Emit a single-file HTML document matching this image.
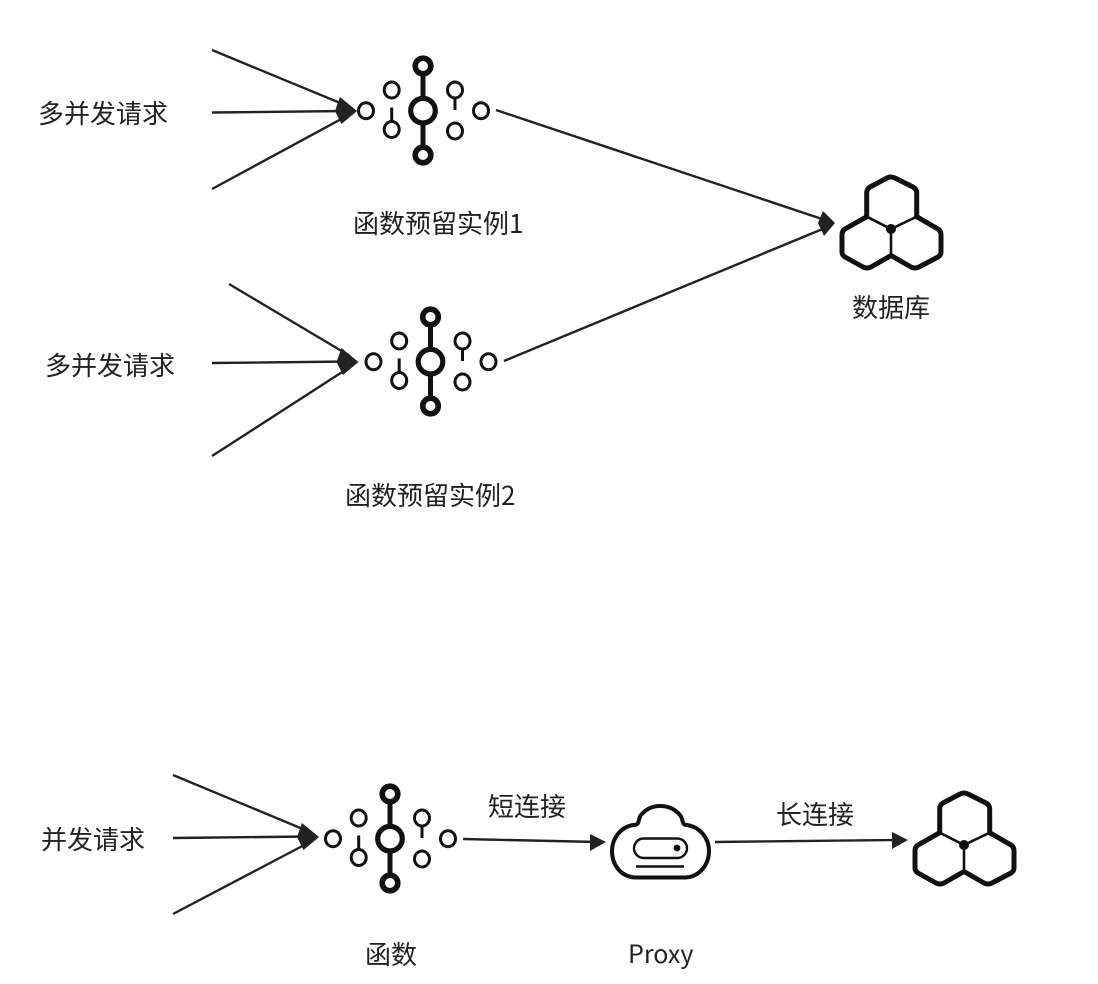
<!DOCTYPE html>
<html><head><meta charset="utf-8">
<style>
html,body{margin:0;padding:0;background:#fff;width:1098px;height:984px;overflow:hidden}
svg{display:block}
text{font-family:"Noto Sans CJK SC","Liberation Sans",sans-serif;font-size:26px;fill:#222}
</style></head>
<body>
<svg width="1098" height="984" viewBox="0 0 1098 984" xmlns="http://www.w3.org/2000/svg">
<defs>
<g id="fn" fill="none" stroke="#111">
  <path d="M423 66V155" stroke-width="5"/>
  <circle cx="423" cy="66" r="7.8" stroke-width="5.6" fill="#fff"/>
  <circle cx="423" cy="155" r="7.8" stroke-width="5.6" fill="#fff"/>
  <circle cx="423" cy="110.7" r="12.3" stroke-width="5.2" fill="#fff"/>
  <g stroke-width="3">
    <ellipse cx="366" cy="110.7" rx="7.5" ry="8"/>
    <ellipse cx="391.7" cy="90" rx="7.5" ry="8"/>
    <ellipse cx="391.7" cy="129.5" rx="7.5" ry="8"/>
    <path d="M391.7 107.5V122"/>
    <ellipse cx="455" cy="90" rx="7.5" ry="8"/>
    <path d="M455 97V110"/>
    <ellipse cx="455" cy="131" rx="7.5" ry="8"/>
    <ellipse cx="481" cy="110.7" rx="7.5" ry="8"/>
  </g>
</g>
<g id="hex" fill="none" stroke="#111" stroke-linejoin="round" stroke-linecap="round">
  <g stroke-width="5">
    <path d="M866.7 216.7V193Q866.7 189 870 187L887 178Q891 176 895 178L913 187Q916.7 189 916.7 193V216.7"/>
    <path d="M866.7 216.7L845 229Q842 231 842 235V252Q842 255 845 257L863 267Q867 269 871 267L891 255.5L911 267Q915 269 919 267L938 257Q941 255 941 252V235Q941 231 938 229L916.7 216.7"/>
  </g>
  <path d="M866.7 216.7L891 229L916.7 216.7M891 229V255.5" stroke-width="2.6"/>
  <circle cx="891" cy="229" r="5" fill="#111" stroke="none"/>
</g>
<path id="h1" d="M357 111L340 97L335 111L341.5 124Z" fill="#222"/>
</defs>

<g stroke="#222" stroke-width="2.4" fill="none">
  <path d="M212 50L345 105"/>
  <path d="M212 112.5L345 111"/>
  <path d="M212 189L345 117"/>
  <path d="M229 284L350 356"/>
  <path d="M212 363L350 361.5"/>
  <path d="M212 456L350 367"/>
  <path d="M496 110L825 220"/>
  <path d="M504 361L825 228"/>
  <path d="M173 775L310 832"/>
  <path d="M173 838L310 836.5"/>
  <path d="M173 914L310 842"/>
  <path d="M463 839L598 842"/>
  <path d="M715 842L896 840"/>
</g>
<use href="#h1"/>
<use href="#h1" x="1.5" y="251"/>
<use href="#h1" x="-38" y="726"/>
<path d="M835 223L823 211L818 223L824 236Z" fill="#222"/>
<path d="M606 842L590 834V851Z" fill="#222"/>
<path d="M908 840L892 832V849Z" fill="#222"/>

<use href="#fn"/>
<use href="#fn" x="7.5" y="251"/>
<use href="#fn" x="-33" y="728"/>

<use href="#hex"/>
<use href="#hex" x="73" y="616"/>

<g fill="none" stroke="#111">
  <path d="M636 877.5C620 877 612 864 612 851C612 838 621 827 633 825C641 825 637 820 641 815C646 809 653 806 660 806C668 806 675 809 680 815C684 820 681 825 687 825C700 827 709 838 709 851C709 864 700 877 685 877.5Z" stroke-width="4"/>
  <rect x="634" y="838.5" width="53" height="19.5" rx="9.7" stroke-width="2.4"/>
  <path d="M636 866.5H684" stroke-width="2.6"/>
</g>
<circle cx="677" cy="848" r="3.4" fill="#111"/>

<text x="38" y="123">多并发请求</text>
<text x="45" y="375">多并发请求</text>
<text x="41" y="849">并发请求</text>
<text x="353" y="233">函数预留实例1</text>
<text x="345" y="505">函数预留实例2</text>
<text x="852" y="317">数据库</text>
<text x="365" y="964">函数</text>
<text x="628" y="963" style="font-size:25px">Proxy</text>
<text x="488" y="816">短连接</text>
<text x="776" y="824">长连接</text>
</svg>
</body></html>
